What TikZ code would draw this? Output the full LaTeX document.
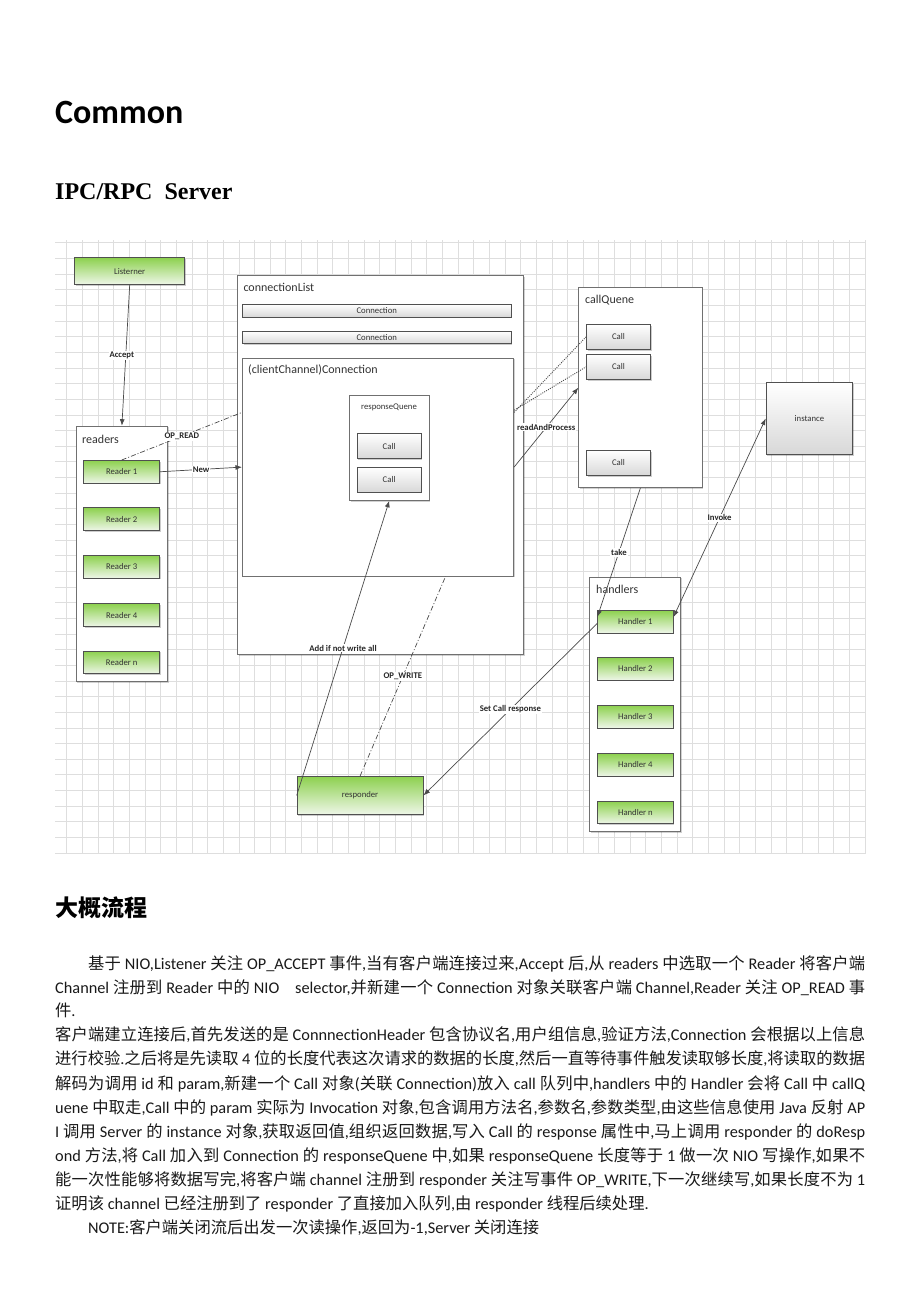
\documentclass[tikz,border=0pt]{standalone}
\usepackage{fontspec}
\setmainfont{Carlito}
\newfontfamily\latinfont{Carlito}
\newfontfamily\cjkfont{Noto Sans CJK SC}
\newfontfamily\headserif{Liberation Serif}
\usetikzlibrary{arrows.meta,calc,shadows}

\newcount\mycnt
\XeTeXinterchartokenstate=1
\newXeTeXintercharclass\CJKcls
\mycnt="4E00
\loop
  \XeTeXcharclass\mycnt=\CJKcls
  \ifnum\mycnt<"9FFF \advance\mycnt by 1 \repeat
\mycnt="21
\loop
  \XeTeXcharclass\mycnt=0
  \ifnum\mycnt<"7E \advance\mycnt by 1 \repeat
\XeTeXinterchartoks 0 \CJKcls = {\cjkfont}
\XeTeXinterchartoks 4095 \CJKcls = {\cjkfont}
\XeTeXinterchartoks \CJKcls 0 = {\latinfont}
\XeTeXinterchartoks \CJKcls 4095 = {\latinfont}
\XeTeXinterchartoks \CJKcls \CJKcls = {\hskip 0pt plus 2pt minus 0.4pt\relax}

\definecolor{gtop}{HTML}{8DD14F}
\definecolor{gbot}{HTML}{EEF6E8}
\definecolor{gbord}{HTML}{505050}
\definecolor{boxgray}{HTML}{707070}
\definecolor{gridc}{HTML}{DEDEDE}
\definecolor{lgray}{HTML}{D8D8D8}
\definecolor{linec}{HTML}{4A4A4A}
\definecolor{txt}{HTML}{333333}

\tikzset{
  gridline/.style={draw=gridc, line width=0.7pt},
  container/.style={draw=boxgray, fill=white, line width=0.8pt, inner sep=0pt, anchor=north west,
    drop shadow={shadow xshift=1.2pt, shadow yshift=-1.2pt, opacity=0.18, fill=black}},
  greenbox/.style={draw=gbord, top color=gtop, bottom color=gbot, line width=0.8pt, inner sep=0pt,
    anchor=north west, font=\fontsize{8.7}{10}\selectfont, text=txt,
    drop shadow={shadow xshift=1.2pt, shadow yshift=-1.2pt, opacity=0.2, fill=black}},
  greybox/.style={draw=gbord, top color=white, bottom color=lgray, line width=0.8pt, inner sep=0pt,
    anchor=north west, font=\fontsize{8.7}{10}\selectfont, text=txt,
    drop shadow={shadow xshift=1.2pt, shadow yshift=-1.2pt, opacity=0.2, fill=black}},
  ctitle/.style={anchor=west, inner sep=0pt, font=\fontsize{12}{14}\selectfont, text=txt},
  cline/.style={draw=linec, line width=0.7pt},
  carrow/.style={cline, -{Latex[length=6.5pt,width=5pt]}},
  dashdot/.style={cline, dash pattern=on 5pt off 2pt on 1pt off 2pt},
  dots/.style={cline, line width=0.9pt, dash pattern=on 1pt off 1.2pt},
  lbl/.style={font=\bfseries\fontsize{8.7}{10}\selectfont, fill=white, inner sep=1pt, text=black!85},
  body/.style={anchor=base west, inner sep=0pt, font=\latinfont\fontsize{16.3}{19}\selectfont, text=black!90},
}

\begin{document}
\begin{tikzpicture}[x=1pt,y=-1pt]
\useasboundingbox (0,0) rectangle (920,1302);
\fill[white] (0,0) rectangle (920,1302);

% headings
\node[anchor=base west, inner sep=0pt, font=\latinfont\bfseries\fontsize{34}{40}\selectfont] (common) at (55,123) {Common};
\node[anchor=base west, inner sep=0pt, font=\headserif\bfseries\fontsize{24}{28}\selectfont] (ipc) at (55,199) {IPC/RPC\ \ Server};

% grid
\begin{scope}
\clip (55,240) rectangle (866,853);
\foreach \i in {0,...,51} \draw[gridline] ({66.7+15.65*\i},240) -- ++(0,613);
\foreach \j in {0,...,39} \draw[gridline] (55,{242.7+15.65*\j}) -- ++(811,0);
\end{scope}

% containers
\node[container, minimum width=286pt, minimum height=379pt] (connlist) at (237.3,275) {};
\node[ctitle] (connlisttitle) at (243.3,287.3) {connectionList};
\node[greybox, minimum width=268.7pt, minimum height=12.7pt] (bar1) at (242,304) {Connection};
\node[greybox, minimum width=268.7pt, minimum height=12.7pt] (bar2) at (242,330.7) {Connection};
\node[container, minimum width=271.3pt, minimum height=218pt] (conn) at (242,357.7) {};
\node[ctitle] (conntitle) at (248,370) {(clientChannel)Connection};
\node[container, minimum width=79.7pt, minimum height=105pt] (rq) at (349,395) {};
\node[anchor=center, inner sep=0pt, font=\fontsize{8.7}{10}\selectfont, text=txt] (rqtitle) at (389,407) {responseQuene};
\node[greybox, minimum width=64pt, minimum height=25pt] (rcall1) at (356.7,433.3) {Call};
\node[greybox, minimum width=64pt, minimum height=25pt] (rcall2) at (356.7,466.7) {Call};

\node[greenbox, minimum width=110pt, minimum height=26.7pt] (listener) at (74.3,257.3) {Listerner};

\node[container, minimum width=91.6pt, minimum height=255.6pt] (readers) at (75.7,425.7) {};
\node[ctitle] (readerstitle) at (82,439) {readers};
\node[greenbox, minimum width=76pt, minimum height=22.7pt] (r1) at (83.3,460) {Reader 1};
\node[greenbox, minimum width=76pt, minimum height=22.7pt] (r2) at (83.3,507.3) {Reader 2};
\node[greenbox, minimum width=76pt, minimum height=22.7pt] (r3) at (83.3,555) {Reader 3};
\node[greenbox, minimum width=76pt, minimum height=22.7pt] (r4) at (83.3,603.3) {Reader 4};
\node[greenbox, minimum width=76pt, minimum height=22.7pt] (rn) at (83.3,650.7) {Reader n};

\node[container, minimum width=123.4pt, minimum height=200pt] (callq) at (578.3,287.3) {};
\node[ctitle] (callqtitle) at (585,300) {callQuene};
\node[greybox, minimum width=64pt, minimum height=25pt] (qcall1) at (586,324) {Call};
\node[greybox, minimum width=64pt, minimum height=25pt] (qcall2) at (586,354) {Call};
\node[greybox, minimum width=64pt, minimum height=25pt] (qcall3) at (586,450) {Call};

\node[greybox, minimum width=86.6pt, minimum height=71.7pt] (instance) at (765.7,382.3) {instance};

\node[container, minimum width=91pt, minimum height=254.3pt] (handlers) at (589.3,576.7) {};
\node[ctitle] (handlerstitle) at (596,589.3) {handlers};
\node[greenbox, minimum width=75.4pt, minimum height=22.5pt] (h1) at (597.3,610) {Handler 1};
\node[greenbox, minimum width=75.4pt, minimum height=22.5pt] (h2) at (597.3,657.3) {Handler 2};
\node[greenbox, minimum width=75.4pt, minimum height=22.5pt] (h3) at (597.3,705) {Handler 3};
\node[greenbox, minimum width=75.4pt, minimum height=22.5pt] (h4) at (597.3,753.3) {Handler 4};
\node[greenbox, minimum width=75.4pt, minimum height=22.5pt] (hn) at (597.3,800.7) {Handler n};

\node[greenbox, minimum width=126pt, minimum height=38pt] (responder) at (296.7,776) {responder};

% connectors
\draw[carrow] (listener.south) -- node[lbl, xshift=-4pt] {Accept} (readers.north);
\draw[dashdot] (r1.north) -- node[lbl] {OP\_READ} ($(conn.north west)!0.25!(conn.south west)$);
\draw[carrow] (r1.east) -- node[lbl] {New} (conn.west);
\draw[dots] ($(conn.north east)!0.25!(conn.south east)$) -- (qcall1.west);
\draw[dots] ($(conn.north east)!0.24!(conn.south east)$) -- (qcall2.west);
\draw[carrow] (conn.east) -- node[lbl] {readAndProcess} (callq.west);
\draw[carrow] (callq.south) -- node[lbl] {take} ($(h1.north west)!0.3!(h1.south west)$);
\draw[cline, {Latex[length=6.5pt,width=5pt]}-{Latex[length=6.5pt,width=5pt]}] (instance.west) -- node[lbl] {Invoke} ($(h1.north east)!0.3!(h1.south east)$);
\draw[carrow] ($(h1.north west)!0.57!(h1.south west)$) -- node[lbl] {Set Call response} (responder.east);
\draw[carrow] (responder.west) -- node[lbl] {Add if not write all} (rq.south);
\draw[dashdot] (responder.north) -- node[lbl] {OP\_WRITE} ($(conn.south west)!0.748!(conn.south east)$);

% text section
\node[anchor=base west, inner sep=0pt, font=\bfseries\fontsize{23}{28}\selectfont] (flow) at (55,916) {大概流程};

\node[body] (l1) at (88,969) {\makebox[777pt][s]{基于 NIO,Listener 关注 OP\_ACCEPT 事件,当有客户端连接过来,Accept 后,从 readers 中选取一个 Reader 将客户端}};
\node[body] (l2) at (55,993) {\makebox[810pt][s]{Channel 注册到 Reader 中的 NIO\hspace{12pt} selector,并新建一个 Connection 对象关联客户端 Channel,Reader 关注 OP\_READ 事}};
\node[body] (l3) at (55,1016) {件.};
\node[body] (l4) at (55,1040) {\makebox[810pt][s]{客户端建立连接后,首先发送的是 ConnnectionHeader 包含协议名,用户组信息,验证方法,Connection 会根据以上信息}};
\node[body] (l5) at (55,1064) {\makebox[810pt][s]{进行校验.之后将是先读取 4 位的长度代表这次请求的数据的长度,然后一直等待事件触发读取够长度,将读取的数据}};
\node[body] (l6) at (55,1089) {\makebox[810pt][s]{解码为调用 id 和 param,新建一个 Call 对象(关联 Connection)放入 call 队列中,handlers 中的 Handler 会将 Call 中 callQ}};
\node[body] (l7) at (55,1113) {\makebox[810pt][s]{uene 中取走,Call 中的 param 实际为 Invocation 对象,包含调用方法名,参数名,参数类型,由这些信息使用 Java 反射 AP}};
\node[body] (l8) at (55,1137) {\makebox[810pt][s]{I 调用 Server 的 instance 对象,获取返回值,组织返回数据,写入 Call 的 response 属性中,马上调用 responder 的 doResp}};
\node[body] (l9) at (55,1161) {\makebox[810pt][s]{ond 方法,将 Call 加入到 Connection 的 responseQuene 中,如果 responseQuene 长度等于 1 做一次 NIO 写操作,如果不}};
\node[body] (l10) at (55,1185) {\makebox[810pt][s]{能一次性能够将数据写完,将客户端 channel 注册到 responder 关注写事件 OP\_WRITE,下一次继续写,如果长度不为 1}};
\node[body] (l11) at (55,1209) {证明该 channel 已经注册到了 responder 了直接加入队列,由 responder 线程后续处理.};
\node[body] (l12) at (88,1233) {NOTE:客户端关闭流后出发一次读操作,返回为-1,Server 关闭连接};
\end{tikzpicture}
\end{document}
